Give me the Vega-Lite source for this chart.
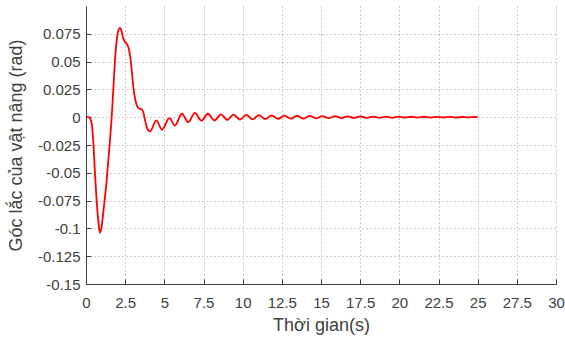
{
  "$schema": "https://vega.github.io/schema/vega-lite/v6.json",
  "width": 470,
  "height": 278,
  "padding": {"left": 86, "top": 6, "right": 9, "bottom": 54},
  "autosize": {"type": "none"},
  "background": "white",
  "config": {
    "view": {"stroke": null},
    "font": "Liberation Sans",
    "axis": {
      "labelFont": "Liberation Sans",
      "titleFont": "Liberation Sans",
      "labelFontSize": 15,
      "titleFontSize": 18,
      "labelColor": "#404040",
      "titleColor": "#404040",
      "titleFontWeight": "normal",
      "labelFlush": false,
      "domainColor": "#404040",
      "domainWidth": 1,
      "tickColor": "#404040",
      "tickSize": -5,
      "gridColor": "#8c8c8c",
      "gridDash": [1, 3],
      "gridWidth": 1,
      "gridOpacity": 0.9
    }
  },
  "data": {
    "values": [
      {"t": 0, "v": 0},
      {"t": 0.15, "v": 0},
      {"t": 0.25, "v": -0.001},
      {"t": 0.36, "v": -0.0054},
      {"t": 0.47, "v": -0.023},
      {"t": 0.57, "v": -0.05},
      {"t": 0.68, "v": -0.075},
      {"t": 0.79, "v": -0.094},
      {"t": 0.89, "v": -0.104},
      {"t": 1.0, "v": -0.0985},
      {"t": 1.1, "v": -0.086},
      {"t": 1.32, "v": -0.0566},
      {"t": 1.53, "v": -0.0207},
      {"t": 1.64, "v": 0},
      {"t": 1.74, "v": 0.0243},
      {"t": 1.85, "v": 0.051},
      {"t": 1.96, "v": 0.069},
      {"t": 2.06, "v": 0.078},
      {"t": 2.17, "v": 0.0803},
      {"t": 2.28, "v": 0.0767},
      {"t": 2.38, "v": 0.0707},
      {"t": 2.49, "v": 0.0677},
      {"t": 2.6, "v": 0.066},
      {"t": 2.7, "v": 0.0632},
      {"t": 2.81, "v": 0.0557},
      {"t": 2.92, "v": 0.042},
      {"t": 3.02, "v": 0.0272},
      {"t": 3.13, "v": 0.0168},
      {"t": 3.24, "v": 0.0108},
      {"t": 3.38, "v": 0.0078},
      {"t": 3.55, "v": 0.0072},
      {"t": 3.66, "v": 0.0042},
      {"t": 3.77, "v": -0.0027},
      {"t": 3.87, "v": -0.0087},
      {"t": 3.97, "v": -0.0118},
      {"t": 4.08, "v": -0.013},
      {"t": 4.49, "v": -0.0028},
      {"t": 4.85, "v": -0.0113},
      {"t": 5.32, "v": -0.0008},
      {"t": 5.68, "v": -0.0075},
      {"t": 6.12, "v": 0.0031},
      {"t": 6.53, "v": -0.0045},
      {"t": 6.95, "v": 0.0038},
      {"t": 7.37, "v": -0.0031},
      {"t": 7.78, "v": 0.0031},
      {"t": 8.2, "v": -0.0029},
      {"t": 8.62, "v": 0.0026},
      {"t": 9.02, "v": -0.0025},
      {"t": 9.42, "v": 0.0024},
      {"t": 9.83, "v": -0.0022},
      {"t": 10.23, "v": 0.0021},
      {"t": 10.64, "v": -0.0019},
      {"t": 11.04, "v": 0.0019},
      {"t": 11.45, "v": -0.0017},
      {"t": 11.85, "v": 0.0017},
      {"t": 12.26, "v": -0.0015},
      {"t": 12.66, "v": 0.0015},
      {"t": 13.07, "v": -0.0013},
      {"t": 13.47, "v": 0.0013},
      {"t": 13.88, "v": -0.0012},
      {"t": 14.28, "v": 0.0012},
      {"t": 14.69, "v": -0.001},
      {"t": 15.09, "v": 0.001},
      {"t": 15.5, "v": -0.0009},
      {"t": 15.9, "v": 0.0009},
      {"t": 16.31, "v": -0.0008},
      {"t": 16.71, "v": 0.0008},
      {"t": 17.12, "v": -0.0007},
      {"t": 17.52, "v": 0.0007},
      {"t": 17.93, "v": -0.0006},
      {"t": 18.33, "v": 0.0006},
      {"t": 18.74, "v": -0.0006},
      {"t": 19.14, "v": 0.0005},
      {"t": 19.55, "v": -0.0005},
      {"t": 19.95, "v": 0.0005},
      {"t": 20.36, "v": -0.0004},
      {"t": 20.76, "v": 0.0004},
      {"t": 21.17, "v": -0.0004},
      {"t": 21.57, "v": 0.0004},
      {"t": 21.98, "v": -0.0003},
      {"t": 22.38, "v": 0.0003},
      {"t": 22.79, "v": -0.0003},
      {"t": 23.19, "v": 0.0003},
      {"t": 23.6, "v": -0.0003},
      {"t": 24.0, "v": 0.0002},
      {"t": 24.41, "v": -0.0002},
      {"t": 24.81, "v": 0.0002},
      {"t": 25.0, "v": 0}
    ]
  },
  "mark": {"type": "line", "color": "#ff0000", "strokeWidth": 1.8, "interpolate": "monotone", "clip": true},
  "encoding": {
    "x": {
      "field": "t",
      "type": "quantitative",
      "scale": {"domain": [0, 30], "nice": false, "zero": false},
      "axis": {
        "title": "Thời gian(s)",
        "values": [0, 2.5, 5, 7.5, 10, 12.5, 15, 17.5, 20, 22.5, 25, 27.5, 30],
        "labelExpr": "'' + datum.value",
        "labelPadding": 16,
        "titlePadding": 6
      }
    },
    "y": {
      "field": "v",
      "type": "quantitative",
      "scale": {"domain": [-0.15, 0.1], "nice": false, "zero": false},
      "axis": {
        "title": "Góc lắc của vật nâng (rad)",
        "values": [-0.15, -0.125, -0.1, -0.075, -0.05, -0.025, 0, 0.025, 0.05, 0.075],
        "labelExpr": "'' + datum.value",
        "labelPadding": 11,
        "titlePadding": 12
      }
    }
  }
}
